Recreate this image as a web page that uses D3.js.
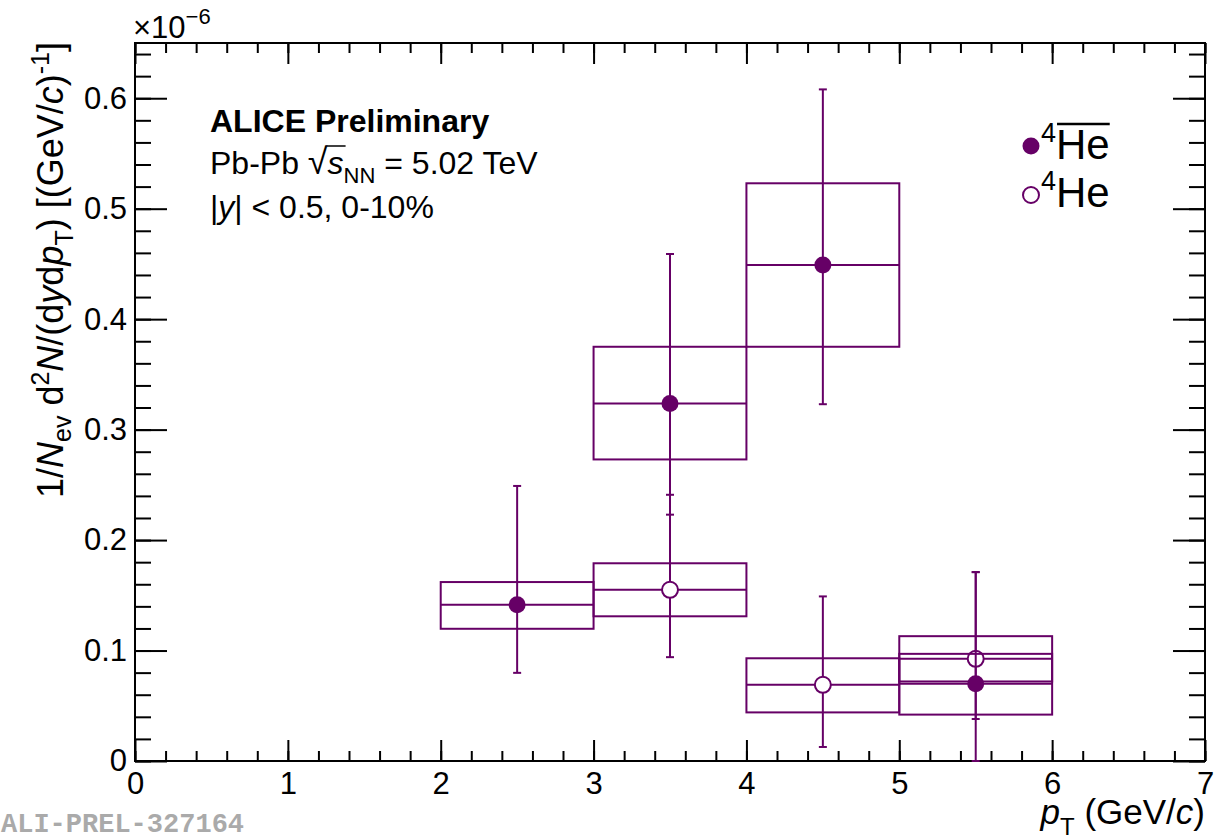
<!DOCTYPE html>
<html>
<head>
<meta charset="utf-8">
<script src="https://cdn.jsdelivr.net/npm/d3@7"></script>
<style>
  body { margin: 0; background: #fff; }
  text { font-family: "Liberation Sans", Arial, Helvetica, sans-serif; }
</style>
</head>
<body>
<svg width="1225" height="840"></svg>
<script>
const width = 1225
const height = 840

// bin centres and values (units of 1e-6)
const antiPt = [2.5, 3.5, 4.5, 5.5]
const antiY = [0.1414, 0.3237, 0.449, 0.070]
const antiStatLo = [0.0798, 0.223, 0.323, 0.0]
const antiStatHi = [0.249, 0.459, 0.608, 0.171]
const antiSysLo = [0.1197, 0.273, 0.375, 0.042]
const antiSysHi = [0.162, 0.375, 0.523, 0.097]

const hePt = [3.5, 4.5, 5.5]
const heY = [0.155, 0.069, 0.0925]
const heStatLo = [0.094, 0.0127, 0.038]
const heStatHi = [0.241, 0.149, 0.171]
const heSysLo = [0.131, 0.044, 0.072]
const heSysHi = [0.179, 0.093, 0.113]

const binHalf = 0.5
const xTicks = [0, 1, 2, 3, 4, 5, 6, 7]
const yTicks = [0, 0.1, 0.2, 0.3, 0.4, 0.5, 0.6]

const color = '#660066'

const pLeft = 135, pRight = 1205, pTop = 43, pBottom = 761

const xScale = d3.scaleLinear().domain([0, 7]).range([pLeft, pRight])
const yScale = d3.scaleLinear().domain([0, 0.65]).range([pBottom, pTop])

const svg = d3.select('svg')

// frame
svg.append('rect')
    .attr('x', pLeft).attr('y', pTop)
    .attr('width', pRight - pLeft).attr('height', pBottom - pTop)
    .attr('fill', 'none').attr('stroke', '#000').attr('stroke-width', 2)

const xMinor = d3.range(0, 7.001, 0.2).map(v => +v.toFixed(1))
const yMinor = d3.range(0, 0.6501, 0.02).map(v => +v.toFixed(2))

function styleAxis (g) {
  g.select('.domain').remove()
  g.selectAll('line').attr('stroke', '#000').attr('stroke-width', 2)
  g.selectAll('text').attr('font-size', 31).attr('fill', '#000')
    .attr('font-family', '"Liberation Sans", Arial, sans-serif')
}

// bottom axis
svg.append('g').attr('transform', `translate(0,${pBottom})`)
    .call(d3.axisBottom(xScale).tickValues(xMinor).tickSize(-10).tickFormat(''))
    .call(styleAxis)
svg.append('g').attr('transform', `translate(0,${pBottom})`)
    .call(d3.axisBottom(xScale).tickValues(xTicks).tickSize(-21).tickPadding(11).tickFormat(d3.format('d')))
    .call(styleAxis)
// top axis
svg.append('g').attr('transform', `translate(0,${pTop})`)
    .call(d3.axisTop(xScale).tickValues(xMinor).tickSize(-10).tickFormat(''))
    .call(styleAxis)
svg.append('g').attr('transform', `translate(0,${pTop})`)
    .call(d3.axisTop(xScale).tickValues(xTicks).tickSize(-21).tickFormat(''))
    .call(styleAxis)
// left axis
svg.append('g').attr('transform', `translate(${pLeft},0)`)
    .call(d3.axisLeft(yScale).tickValues(yMinor).tickSize(-16).tickFormat(''))
    .call(styleAxis)
svg.append('g').attr('transform', `translate(${pLeft},0)`)
    .call(d3.axisLeft(yScale).tickValues(yTicks).tickSize(-32).tickPadding(8)
      .tickFormat(d => d === 0 ? '0' : d3.format('.1f')(d)))
    .call(styleAxis)
// right axis
svg.append('g').attr('transform', `translate(${pRight},0)`)
    .call(d3.axisRight(yScale).tickValues(yMinor).tickSize(-16).tickFormat(''))
    .call(styleAxis)
svg.append('g').attr('transform', `translate(${pRight},0)`)
    .call(d3.axisRight(yScale).tickValues(yTicks).tickSize(-32).tickFormat(''))
    .call(styleAxis)

// exponent label
const expo = svg.append('text').attr('x', pLeft - 2).attr('y', 38).attr('font-size', 31)
expo.append('tspan').text('\u00d710')
expo.append('tspan').attr('dy', -14).attr('font-size', 22).text('\u22126')

// series drawing
function drawSeries (pts, ys, sLo, sHi, yLo, yHi) {
  const data = pts.map((p, i) => ({ p, y: ys[i], sLo: sLo[i], sHi: sHi[i], yLo: yLo[i], yHi: yHi[i] }))
  const g = svg.append('g')
  g.selectAll('rect.sys').data(data).enter().append('rect')
      .attr('x', d => xScale(d.p - binHalf))
      .attr('y', d => yScale(d.yHi))
      .attr('width', d => xScale(d.p + binHalf) - xScale(d.p - binHalf))
      .attr('height', d => yScale(d.yLo) - yScale(d.yHi))
      .attr('fill', 'none').attr('stroke', color).attr('stroke-width', 2)
  g.selectAll('line.hbar').data(data).enter().append('line')
      .attr('x1', d => xScale(d.p - binHalf)).attr('x2', d => xScale(d.p + binHalf))
      .attr('y1', d => yScale(d.y)).attr('y2', d => yScale(d.y))
      .attr('stroke', color).attr('stroke-width', 2)
  g.selectAll('line.stat').data(data).enter().append('line')
      .attr('x1', d => xScale(d.p)).attr('x2', d => xScale(d.p))
      .attr('y1', d => yScale(d.sLo)).attr('y2', d => yScale(d.sHi))
      .attr('stroke', color).attr('stroke-width', 2)
  g.selectAll('line.capHi').data(data).enter().append('line')
      .attr('x1', d => xScale(d.p) - 4).attr('x2', d => xScale(d.p) + 4)
      .attr('y1', d => yScale(d.sHi)).attr('y2', d => yScale(d.sHi))
      .attr('stroke', color).attr('stroke-width', 2)
  g.selectAll('line.capLo').data(data).enter().append('line')
      .attr('x1', d => xScale(d.p) - 4).attr('x2', d => xScale(d.p) + 4)
      .attr('y1', d => yScale(d.sLo)).attr('y2', d => yScale(d.sLo))
      .attr('stroke', color).attr('stroke-width', 2)
  return { g, data }
}

const he = drawSeries(hePt, heY, heStatLo, heStatHi, heSysLo, heSysHi)
const anti = drawSeries(antiPt, antiY, antiStatLo, antiStatHi, antiSysLo, antiSysHi)

he.g.selectAll('circle').data(he.data).enter().append('circle')
    .attr('cx', d => xScale(d.p)).attr('cy', d => yScale(d.y)).attr('r', 8)
    .attr('fill', '#fff').attr('stroke', color).attr('stroke-width', 2)
anti.g.selectAll('circle').data(anti.data).enter().append('circle')
    .attr('cx', d => xScale(d.p)).attr('cy', d => yScale(d.y)).attr('r', 8.5)
    .attr('fill', color)

// y axis title
const yt = svg.append('text')
    .attr('transform', 'translate(63,42) rotate(-90)')
    .attr('text-anchor', 'end').attr('font-size', 36)
yt.append('tspan').text('1/')
yt.append('tspan').attr('font-style', 'italic').text('N')
yt.append('tspan').attr('font-size', 25).attr('dy', 8).text('ev')
yt.append('tspan').attr('dy', -8).text(' d')
yt.append('tspan').attr('font-size', 25).attr('dy', -14).text('2')
yt.append('tspan').attr('dy', 14).attr('font-style', 'italic').text('N')
yt.append('tspan').text('/(d')
yt.append('tspan').attr('font-style', 'italic').text('y')
yt.append('tspan').text('d')
yt.append('tspan').attr('font-style', 'italic').text('p')
yt.append('tspan').attr('font-size', 25).attr('dy', 10).text('T')
yt.append('tspan').attr('dy', -10).text(') [(GeV/')
yt.append('tspan').attr('font-style', 'italic').text('c')
yt.append('tspan').text(')')
yt.append('tspan').attr('font-size', 25).attr('dy', -14).text('-1')
yt.append('tspan').attr('dy', 14).text(']')

// x axis title
const xt = svg.append('text').attr('x', pRight).attr('y', 824)
    .attr('text-anchor', 'end').attr('font-size', 35)
xt.append('tspan').attr('font-style', 'italic').text('p')
xt.append('tspan').attr('font-size', 24).attr('dy', 11).text('T')
xt.append('tspan').attr('dy', -11).text(' (GeV/')
xt.append('tspan').attr('font-style', 'italic').text('c')
xt.append('tspan').text(')')

// info text
svg.append('text').attr('x', 210).attr('y', 132).attr('font-size', 32)
    .attr('font-weight', 'bold').text('ALICE Preliminary')
const l2 = svg.append('text').attr('x', 210).attr('y', 174).attr('font-size', 32)
l2.append('tspan').text('Pb-Pb ')
l2.append('tspan').attr('font-size', 36).text('\u221a')
l2.append('tspan').attr('font-style', 'italic').text('s')
l2.append('tspan').attr('font-size', 22).attr('dy', 9).text('NN')
l2.append('tspan').attr('dy', -9).text(' = 5.02 TeV')
{
  const root = l2.node()
  const r = root.getExtentOfChar(6)
  const s = root.getExtentOfChar(7)
  svg.append('line')
      .attr('x1', r.x + r.width - 1).attr('x2', s.x + s.width + 2)
      .attr('y1', r.y + 5).attr('y2', r.y + 5)
      .attr('stroke', '#000').attr('stroke-width', 1.5)
}
const l3 = svg.append('text').attr('x', 210).attr('y', 218).attr('font-size', 32)
l3.append('tspan').text('|')
l3.append('tspan').attr('font-style', 'italic').text('y')
l3.append('tspan').text('| < 0.5, 0-10%')

// legend
svg.append('circle').attr('cx', 1031).attr('cy', 146).attr('r', 8.5).attr('fill', color)
svg.append('circle').attr('cx', 1031).attr('cy', 195).attr('r', 8)
    .attr('fill', '#fff').attr('stroke', color).attr('stroke-width', 2)
const lg1 = svg.append('text').attr('x', 1041).attr('y', 159).attr('font-size', 42)
lg1.append('tspan').attr('font-size', 27).attr('dy', -17).text('4')
lg1.append('tspan').attr('dy', 17).text('He')
{
  const root = lg1.node()
  const h = root.getExtentOfChar(1)
  const e = root.getExtentOfChar(2)
  svg.append('line').attr('x1', h.x + 1).attr('x2', e.x + e.width)
      .attr('y1', 124).attr('y2', 124)
      .attr('stroke', '#000').attr('stroke-width', 2.5)
}
const lg2 = svg.append('text').attr('x', 1041).attr('y', 207).attr('font-size', 42)
lg2.append('tspan').attr('font-size', 27).attr('dy', -17).text('4')
lg2.append('tspan').attr('dy', 17).text('He')

// watermark
svg.append('text').attr('x', 1).attr('y', 832).attr('font-size', 27)
    .attr('font-weight', 'bold').attr('fill', '#aaa')
    .style('font-family', '"Liberation Mono", "Courier New", monospace')
    .text('ALI-PREL-327164')
</script>
</body>
</html>
